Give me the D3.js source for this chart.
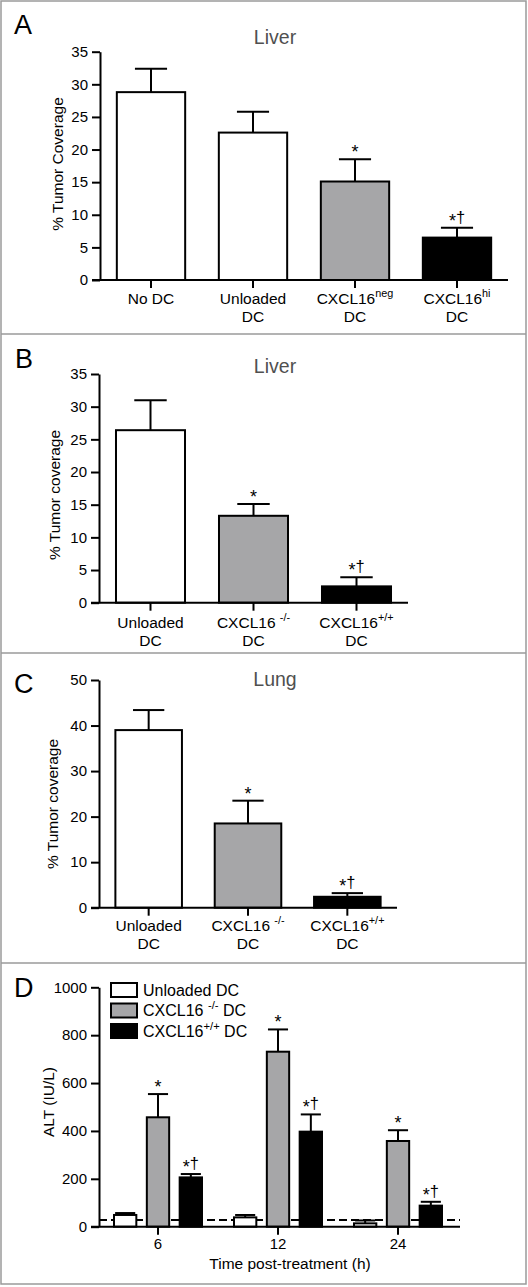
<!DOCTYPE html>
<html><head><meta charset="utf-8">
<script src="https://cdn.jsdelivr.net/npm/d3@7"></script>
<style>
body{margin:0;background:#fff}
svg{display:block}
text{font-family:"Liberation Sans",Arial,Helvetica,sans-serif}
</style>
</head><body>
<svg id="c" width="528" height="1287"></svg>
<script>
// ---------------- DATA ----------------
const catsA = ["No DC", "Unloaded|DC", "CXCL16^{neg}|DC", "CXCL16^{hi}|DC"];
const valsA = [28.8, 22.6, 15.1, 6.5];
const semA  = [3.6, 3.2, 3.4, 1.5];
const sigA  = ["", "", "*", "*†"];
const ticksA = [0, 5, 10, 15, 20, 25, 30, 35];

const catsB = ["Unloaded|DC", "CXCL16 ^{-/-}|DC", "CXCL16^{+/+}|DC"];
const valsB = [26.4, 13.3, 2.5];
const semB  = [4.6, 1.8, 1.4];
const sigB  = ["", "*", "*†"];
const ticksB = [0, 5, 10, 15, 20, 25, 30, 35];

const catsC = ["Unloaded|DC", "CXCL16 ^{-/-}|DC", "CXCL16^{+/+}|DC"];
const valsC = [39.0, 18.5, 2.4];
const semC  = [4.4, 5.0, 0.8];
const sigC  = ["", "*", "*†"];
const ticksC = [0, 10, 20, 30, 40, 50];

const timesD = ["6", "12", "24"];
const seriesD = ["Unloaded DC", "CXCL16 ^{-/-} DC", "CXCL16^{+/+} DC"];
const unloadedD = [49, 39, 14];
const koD = [457, 731, 358];
const wtD = [206, 397, 88];
const unloadedSemD = [8, 10, 12];
const koSemD = [97, 93, 45];
const wtSemD = [14, 72, 16];
const unloadedSigD = ["", "", ""];
const koSigD = ["*", "*", "*"];
const wtSigD = ["*†", "*†", "*†"];
const ticksD = [0, 200, 400, 600, 800, 1000];
const normalD = 28;

// ---------------- STYLE ----------------
const WHITE = "#ffffff", GRAY = "#a6a6a8", BLACK = "#000000";
const FONT = 15;

const svg = d3.select("#c");
svg.append("rect").attr("width", 528).attr("height", 1287).attr("fill", "#fff");
svg.append("rect").attr("x", 1).attr("y", 1).attr("width", 525).attr("height", 1283)
  .attr("fill", "none").attr("stroke", "#9a9a9a").attr("stroke-width", 1.5);
[334, 653, 963].forEach(yy => svg.append("line").attr("x1", 1).attr("x2", 526)
  .attr("y1", yy).attr("y2", yy).attr("stroke", "#9a9a9a").attr("stroke-width", 1.5));

function rich(t, str, size) {
  const parts = str.split(/(\^\{[^}]*\})/).filter(s => s.length);
  let raised = false;
  parts.forEach(p => {
    if (p.startsWith("^{")) {
      t.append("tspan").attr("font-size", size * 0.7).attr("dy", -size * 0.42).text(p.slice(2, -1));
      raised = true;
    } else {
      const s = t.append("tspan").text(p);
      if (raised) { s.attr("dy", size * 0.42); raised = false; }
    }
  });
}

function sigText(g, str, cx, yb) {
  if (!str) return;
  const t = g.append("text").attr("x", cx).attr("y", yb).attr("text-anchor", "middle").attr("fill", "#000");
  let shifted = false;
  for (const ch of str) {
    if (ch === "*") {
      t.append("tspan").attr("font-size", 18).attr("dy", shifted ? 0 : 4).text(ch);
      shifted = true;
    } else {
      t.append("tspan").attr("font-size", 16.5).attr("dy", shifted ? -4 : 0).attr("fill", "#000").text(ch);
      shifted = false;
    }
  }
}

function yAxis(g, y, x0, ticks) {
  const ax = g.append("g").attr("transform", `translate(${x0},0)`)
    .call(d3.axisLeft(y).tickValues(ticks).tickFormat(d3.format("d")).tickSize(8).tickPadding(4).tickSizeOuter(0));
  ax.select(".domain").attr("stroke", "#000").attr("stroke-width", 2);
  ax.selectAll(".tick line").attr("stroke", "#000").attr("stroke-width", 2);
  ax.selectAll(".tick text").attr("font-size", FONT).attr("fill", "#000")
    .attr("font-family", '"Liberation Sans",Arial,sans-serif');
  return ax;
}

function panelText(letter, lx, ly, title, tx, ty, ylab, yx, yy) {
  svg.append("text").attr("x", lx).attr("y", ly).attr("font-size", 27).attr("fill", "#000").text(letter);
  if (title) svg.append("text").attr("x", tx).attr("y", ty).attr("text-anchor", "middle")
    .attr("font-size", 19.5).attr("fill", "#505050").text(title);
  svg.append("text").attr("transform", `translate(${yx},${yy}) rotate(-90)`)
    .attr("text-anchor", "middle").attr("dy", "0.35em").attr("font-size", 15.5).attr("fill", "#000").text(ylab);
}

function barPanel(cfg) {
  const g = svg.append("g");
  const x = d3.scaleBand().domain(cfg.cats).range(cfg.xr).paddingInner(0.33).paddingOuter(0.165);
  const y = d3.scaleLinear().domain(cfg.dom).range(cfg.yr);
  const bw = x.bandwidth();
  g.selectAll("rect.bar").data(cfg.vals).join("rect").attr("class", "bar")
    .attr("x", (d, i) => x(cfg.cats[i])).attr("y", d => y(d))
    .attr("width", bw).attr("height", d => y(0) - y(d))
    .attr("fill", (d, i) => cfg.fills[i]).attr("stroke", "#000").attr("stroke-width", 2);
  cfg.vals.forEach((v, i) => {
    const cx = x(cfg.cats[i]) + bw / 2, top = y(v + cfg.sem[i]), cw = bw * 0.47;
    g.append("line").attr("x1", cx).attr("x2", cx).attr("y1", y(v)).attr("y2", top)
      .attr("stroke", "#000").attr("stroke-width", 2);
    g.append("line").attr("x1", cx - cw / 2).attr("x2", cx + cw / 2).attr("y1", top).attr("y2", top)
      .attr("stroke", "#000").attr("stroke-width", 2);
    sigText(g, cfg.sig[i], cx, top - 5);
  });
  yAxis(g, y, cfg.xr[0], cfg.ticks);
  g.append("line").attr("x1", cfg.xr[0] - 8).attr("x2", cfg.xr[1]).attr("y1", y(0)).attr("y2", y(0))
    .attr("stroke", "#000").attr("stroke-width", 2);
  cfg.cats.forEach(c => {
    const cx = x(c) + bw / 2;
    g.append("line").attr("x1", cx).attr("x2", cx).attr("y1", y(0)).attr("y2", y(0) + 8)
      .attr("stroke", "#000").attr("stroke-width", 2);
    c.split("|").forEach((line, k) => {
      const t = g.append("text").attr("x", cx).attr("y", cfg.lb[k]).attr("text-anchor", "middle")
        .attr("font-size", 15.5).attr("fill", "#000");
      rich(t, line, 15.5);
    });
  });
}

// Panel A
barPanel({cats: catsA, vals: valsA, sem: semA, sig: sigA, ticks: ticksA, dom: [0, 35],
  xr: [100, 508], yr: [280, 51.7], fills: [WHITE, WHITE, GRAY, BLACK], lb: [304, 322]});
panelText("A", 14, 34, "Liver", 275, 44, "% Tumor Coverage", 58, 164);

// Panel B
barPanel({cats: catsB, vals: valsB, sem: semB, sig: sigB, ticks: ticksB, dom: [0, 35],
  xr: [99, 408], yr: [602.7, 374], fills: [WHITE, GRAY, BLACK], lb: [628, 646]});
panelText("B", 15, 368, "Liver", 275, 373, "% Tumor coverage", 55, 495);

// Panel C
barPanel({cats: catsC, vals: valsC, sem: semC, sig: sigC, ticks: ticksC, dom: [0, 50],
  xr: [99, 397], yr: [907.7, 680], fills: [WHITE, GRAY, BLACK], lb: [931, 949]});
panelText("C", 14, 693, "Lung", 275, 686, "% Tumor coverage", 53, 804);

// Panel D
(function () {
  const g = svg.append("g");
  const y = d3.scaleLinear().domain([0, 1000]).range([1226.7, 987.3]);
  const x0 = d3.scaleBand().domain(timesD).range([98, 458]);
  const half = x0.bandwidth() / 2;
  const x1 = d3.scaleBand().domain(seriesD).range([half - 44, half + 44]).paddingInner(0.32);
  const vals = [unloadedD, koD, wtD], sems = [unloadedSemD, koSemD, wtSemD], sigs = [unloadedSigD, koSigD, wtSigD];
  const fills = [WHITE, GRAY, BLACK];
  g.append("line").attr("x1", 99).attr("x2", 460).attr("y1", y(normalD)).attr("y2", y(normalD))
    .attr("stroke", "#000").attr("stroke-width", 2).attr("stroke-dasharray", "8,4");
  seriesD.forEach((s, si) => {
    const bw = x1.bandwidth();
    g.selectAll(null).data(vals[si]).join("rect")
      .attr("x", (d, i) => x0(timesD[i]) + x1(s)).attr("y", d => y(d))
      .attr("width", bw).attr("height", d => y(0) - y(d))
      .attr("fill", fills[si]).attr("stroke", "#000").attr("stroke-width", 2);
    vals[si].forEach((v, i) => {
      const cx = x0(timesD[i]) + x1(s) + bw / 2, top = y(v + sems[si][i]), cw = bw * 0.9;
      g.append("line").attr("x1", cx).attr("x2", cx).attr("y1", y(v)).attr("y2", top)
        .attr("stroke", "#000").attr("stroke-width", 2);
      g.append("line").attr("x1", cx - cw / 2).attr("x2", cx + cw / 2).attr("y1", top).attr("y2", top)
        .attr("stroke", "#000").attr("stroke-width", 2);
      sigText(g, sigs[si][i], cx, top - 5);
    });
  });
  yAxis(g, y, 99, ticksD);
  g.append("line").attr("x1", 91).attr("x2", 460).attr("y1", y(0)).attr("y2", y(0))
    .attr("stroke", "#000").attr("stroke-width", 2);
  timesD.forEach(t => {
    const cx = x0(t) + half;
    g.append("line").attr("x1", cx).attr("x2", cx).attr("y1", y(0)).attr("y2", y(0) + 8)
      .attr("stroke", "#000").attr("stroke-width", 2);
    g.append("text").attr("x", cx).attr("y", 1249).attr("text-anchor", "middle")
      .attr("font-size", FONT).attr("fill", "#000").text(t);
  });
  g.append("text").attr("x", 290).attr("y", 1268.5).attr("text-anchor", "middle")
    .attr("font-size", 15.5).attr("fill", "#000").text("Time post-treatment (h)");
  const ly = [983, 1003.5, 1024];
  seriesD.forEach((s, si) => {
    g.append("rect").attr("x", 111).attr("y", ly[si]).attr("width", 26).attr("height", 14)
      .attr("fill", fills[si]).attr("stroke", "#000").attr("stroke-width", 2);
    const t = g.append("text").attr("x", 143).attr("y", ly[si] + 12.5).attr("font-size", 16).attr("fill", "#000");
    rich(t, s, 16);
  });
  panelText("D", 14, 997, null, 0, 0, "ALT (IU/L)", 49, 1102);
})();
</script>
</body></html>
